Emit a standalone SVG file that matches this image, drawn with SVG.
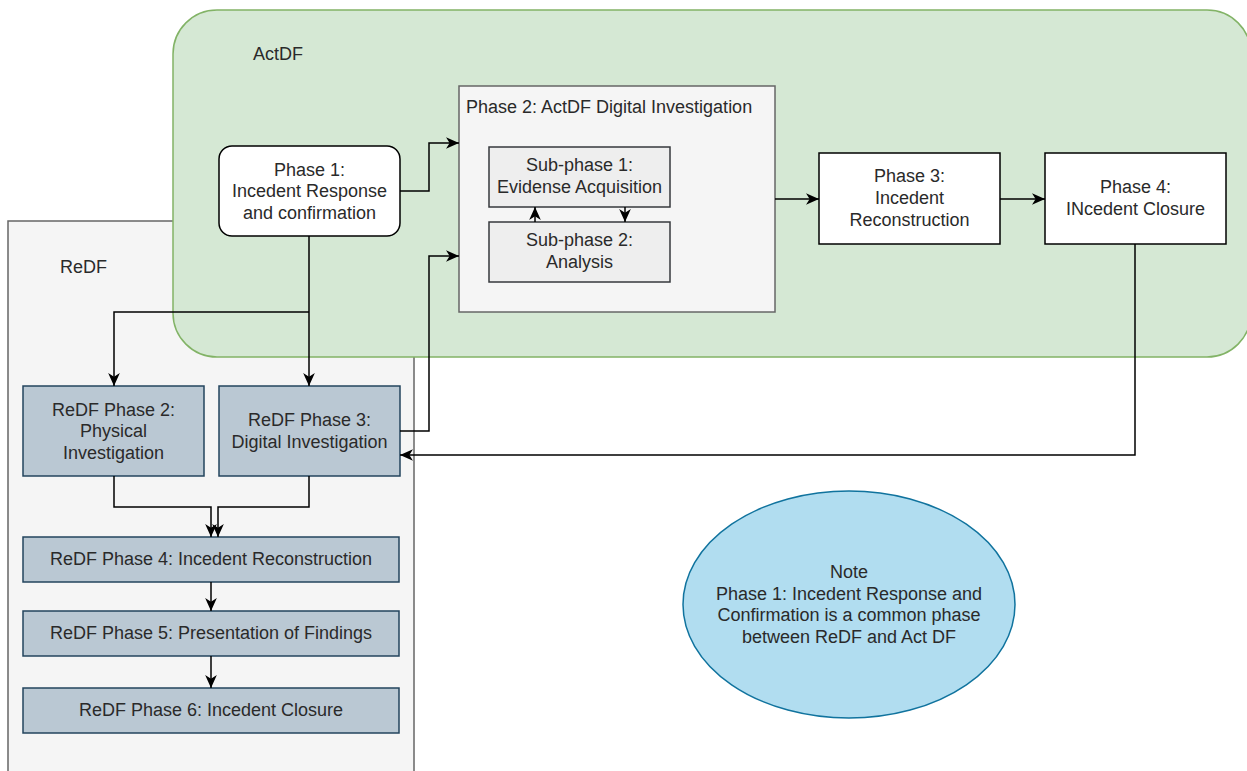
<svg xmlns="http://www.w3.org/2000/svg" width="1247" height="771" viewBox="0 0 1247 771">
<defs>
<marker id="arr" markerUnits="userSpaceOnUse" markerWidth="13" markerHeight="13" viewBox="0 0 10 10" refX="10" refY="5" orient="auto">
<path d="M0,0.5 L10,5 L0,9.5 L2.8,5 z" fill="#000"/>
</marker>
<style>
text{font-family:"Liberation Sans",Arial,sans-serif;font-size:18px;fill:#2a2a2a;}
.c{text-anchor:middle;}
.white{fill:#fff;stroke:#000;stroke-width:1.5;}
.gray{fill:#f5f5f5;stroke:#666;stroke-width:1.5;}
.sub{fill:#eeeeee;stroke:#36393d;stroke-width:1.5;}
.blue{fill:#bac8d3;stroke:#23445d;stroke-width:1.5;}
.conn path{fill:none;stroke:#000;stroke-width:1.5;}
</style>
</defs>
<rect width="1247" height="771" fill="#fff"/>
<g id="redf">
<rect x="8" y="221" width="406" height="580" class="gray"/>
<text x="60" y="273">ReDF</text>
</g>
<g id="actdf">
<rect x="173" y="10" width="1078" height="347" rx="44" ry="44" fill="#d5e8d4" stroke="#82b366" stroke-width="1.5"/>
<text x="253" y="60">ActDF</text>
</g>
<g id="phase2">
<rect x="459" y="86" width="316" height="226" class="gray"/>
<text x="466" y="113">Phase 2: ActDF Digital Investigation</text>
</g>
<g id="sub1">
<rect x="489" y="147" width="181" height="60" class="sub"/>
<text class="c" x="579.5" y="171">Sub-phase 1:</text>
<text class="c" x="579.5" y="193">Evidense Acquisition</text>
</g>
<g id="sub2">
<rect x="489" y="222" width="181" height="60" class="sub"/>
<text class="c" x="579.5" y="246">Sub-phase 2:</text>
<text class="c" x="579.5" y="268">Analysis</text>
</g>
<g id="phase1">
<rect x="219" y="146" width="181" height="90" rx="13" ry="13" class="white"/>
<text class="c" x="309.5" y="176">Phase 1:</text>
<text class="c" x="309.5" y="197">Incedent Response</text>
<text class="c" x="309.5" y="219">and confirmation</text>
</g>
<g id="phase3">
<rect x="819" y="153" width="181" height="91" class="white"/>
<text class="c" x="909.5" y="182">Phase 3:</text>
<text class="c" x="909.5" y="204">Incedent</text>
<text class="c" x="909.5" y="226">Reconstruction</text>
</g>
<g id="phase4">
<rect x="1045" y="153" width="181" height="91" class="white"/>
<text class="c" x="1135.5" y="193">Phase 4:</text>
<text class="c" x="1135.5" y="215">INcedent Closure</text>
</g>
<g id="redf2">
<rect x="23" y="386" width="181" height="90" class="blue"/>
<text class="c" x="113.5" y="416">ReDF Phase 2:</text>
<text class="c" x="113.5" y="437">Physical</text>
<text class="c" x="113.5" y="459">Investigation</text>
</g>
<g id="redf3">
<rect x="219" y="386" width="181" height="90" class="blue"/>
<text class="c" x="309.5" y="426">ReDF Phase 3:</text>
<text class="c" x="309.5" y="448">Digital Investigation</text>
</g>
<g id="redf4">
<rect x="23" y="537" width="376" height="45" class="blue"/>
<text class="c" x="211" y="565">ReDF Phase 4: Incedent Reconstruction</text>
</g>
<g id="redf5">
<rect x="23" y="611" width="376" height="45" class="blue"/>
<text class="c" x="211" y="639">ReDF Phase 5: Presentation of Findings</text>
</g>
<g id="redf6">
<rect x="23" y="688" width="376" height="45" class="blue"/>
<text class="c" x="211" y="716">ReDF Phase 6: Incedent Closure</text>
</g>
<g id="note">
<ellipse cx="849" cy="604.5" rx="166" ry="113.5" fill="#b1ddf0" stroke="#10739e" stroke-width="1.5"/>
<text class="c" x="849" y="578">Note</text>
<text class="c" x="849" y="600">Phase 1: Incedent Response and</text>
<text class="c" x="849" y="621">Confirmation is a common phase</text>
<text class="c" x="849" y="643">between ReDF and Act DF</text>
</g>
<g class="conn" id="connectors">
<path d="M400,191 H429 V143 H459" marker-end="url(#arr)"/>
<path d="M400,431 H429 V256 H459" marker-end="url(#arr)"/>
<path d="M775,199 H819" marker-end="url(#arr)"/>
<path d="M1000,199 H1045" marker-end="url(#arr)"/>
<path d="M535,222 V207" marker-end="url(#arr)"/>
<path d="M625,207 V222" marker-end="url(#arr)"/>
<path d="M1135,244 V455 H400" marker-end="url(#arr)"/>
<path d="M309,236 V386" marker-end="url(#arr)"/>
<path d="M309,312 H114 V386" marker-end="url(#arr)"/>
<path d="M114,476 V507 H211 V537" marker-end="url(#arr)"/>
<path d="M309,476 V507 H218 V537" marker-end="url(#arr)"/>
<path d="M211,582 V611" marker-end="url(#arr)"/>
<path d="M211,656 V688" marker-end="url(#arr)"/>
</g>
</svg>
